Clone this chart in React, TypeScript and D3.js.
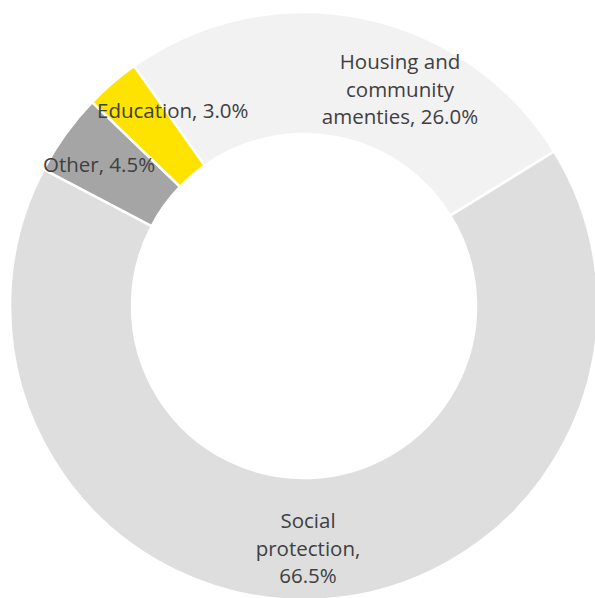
import React from "react";
import * as d3 from "d3";

const categories = ["Housing and community amenties", "Social protection", "Other", "Education"];
const values = [26.0, 66.5, 4.5, 3.0];
const labelLines = [
  ["Housing and", "community", "amenties, 26.0%"],
  ["Social", "protection,", "66.5%"],
  ["Other, 4.5%"],
  ["Education, 3.0%"],
];
const colors = ["#F2F2F2", "#DEDEDE", "#A5A5A5", "#FFE300"];

// label layout (x, first baseline, anchor)
const labelPos = [
  { x: 400, y: 69, anchor: "middle" },
  { x: 308, y: 528, anchor: "middle" },
  { x: 43, y: 172, anchor: "start" },
  { x: 97, y: 118, anchor: "start" },
];

export default function App() {
  const W = 595, H = 598;
  const cx = 304, cy = 306;
  const outerR = 294, innerR = 172;
  const start = (-35.3 * Math.PI) / 180;
  const pie = d3.pie<number>().sort(null).startAngle(start).endAngle(start + 2 * Math.PI);
  const arcs = pie(values);
  const arc = d3.arc<d3.PieArcDatum<number>>().innerRadius(innerR).outerRadius(outerR);
  return (
    <svg width={W} height={H} style={{ position: "absolute", left: 0, top: 0 }}>
      <rect width={W} height={H} fill="#fff" />
      <g transform={`translate(${cx},${cy})`}>
        {arcs.map((a, i) => (
          <path key={categories[i]} d={arc(a) || ""} fill={colors[i]} stroke="#fff" strokeWidth={2.5} />
        ))}
      </g>
      {labelLines.map((lines, i) => (
        <text
          key={i}
          x={labelPos[i].x}
          y={labelPos[i].y}
          textAnchor={labelPos[i].anchor}
          fontFamily="'Open Sans', sans-serif"
          fontSize={20.5}
          fill="#404040"
        >
          {lines.map((l, j) => (
            <tspan key={j} x={labelPos[i].x} dy={j === 0 ? 0 : 27.5}>
              {l}
            </tspan>
          ))}
        </text>
      ))}
    </svg>
  );
}
